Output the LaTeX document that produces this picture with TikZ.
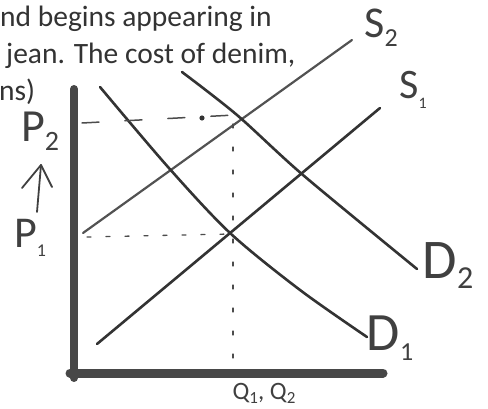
\documentclass[tikz,border=0pt]{standalone}
\usepackage{fontspec}
\setmainfont{Carlito}
\newcommand{\fs}[1]{\fontsize{#1}{#1}\selectfont}
\begin{document}
\begin{tikzpicture}[x=1pt,y=-1pt,
  curve/.style={line width=2.6pt,draw=black!80,line cap=round,line join=round},
  lightcurve/.style={line width=2.2pt,draw=black!68,line cap=round},
  axis/.style={draw=black!72,line cap=round},
  guide/.style={line width=1.5pt,draw=black!70,line cap=round},
  pen/.style={line width=1.8pt,draw=black!75,line cap=round,line join=round},
  hand/.style={inner sep=0pt,text=black!75},
  body/.style={inner sep=0pt,anchor=base west,text=black!80,font=\fs{29.5}}]
\useasboundingbox (0,0) rectangle (488,409);
% text
\node[body] (t1) at (0,27) {nd begins appearing in};
\node[body] (t2) at (6,64) {jean. The cost of denim,};
\node[body] (t3) at (-1,101) {ns)};
% axes
\coordinate (Ytop) at (74,89);
\coordinate (Ybot) at (74,378);
\coordinate (Xbeg) at (70,373);
\coordinate (Xend) at (383,373);
\draw[axis,line width=8pt] (Ybot) -- (Ytop);
\draw[axis,line width=9pt] (Xbeg) -- (Xend);
% supply curves
\coordinate (s2a) at (83,233);
\coordinate (s2b) at (352,40);
\coordinate (s1a) at (97,344);
\coordinate (s1b) at (380,108);
\draw[lightcurve] (s2a) -- (s2b);
\draw[curve] (s1a) -- (s1b);
% demand curves
\draw[curve] plot[smooth,tension=0.5] coordinates {(100,87) (168,167) (230,233) (300,290) (367,337)};
\draw[curve] plot[smooth,tension=0.5] coordinates {(182,72) (237,115) (303,175) (417,269)};
% guides
\coordinate (e2) at (235,115);
\coordinate (e1) at (230,234);
\coordinate (p2s) at (82,123);
\coordinate (p1s) at (87,237);
\coordinate (qt) at (233,124);
\coordinate (qb) at (233,362);
\draw[guide,dash pattern=on 17pt off 26pt] (p2s) -- (e2);
\fill[black!80] (202,118) circle (2.6pt);
\draw[guide,line width=1.3pt,dash pattern=on 4pt off 15pt] (p1s) -- (e1);
\draw[guide,line width=1.3pt,dash pattern=on 4pt off 19pt] (qt) -- (qb);
% labels
\node[hand] (S2) at (381,28) {\fs{44}S\raisebox{-9pt}{\fs{26}2}};
\node[hand] (S1) at (413,90) {\fs{42}S\raisebox{-10pt}{\fs{16}1}};
\node[hand] (D2) at (448,266) {\fs{56}D\raisebox{-10pt}{\fs{32}2}};
\node[hand] (D1) at (390,338) {\fs{54}D\raisebox{-10pt}{\fs{26}1}};
\node[hand] (P2) at (40,131) {\fs{46}P\raisebox{-9pt}{\fs{28}2}};
\node[hand] (P1) at (30,238) {\fs{44}P\raisebox{-9pt}{\fs{18}1}};
\node[hand] (Q) at (264,393) {\fs{25}Q\raisebox{-4pt}{\fs{17}1}, Q\raisebox{-4pt}{\fs{17}2}};
% arrow P1 -> P2
\coordinate (arrS) at (37,212);
\coordinate (arrE) at (41,165);
\coordinate (barbL) at (22,188);
\coordinate (barbR) at (52,187);
\draw[pen] (arrS) -- (arrE);
\draw[pen] (barbL) -- (arrE) -- (barbR);
\end{tikzpicture}
\end{document}
